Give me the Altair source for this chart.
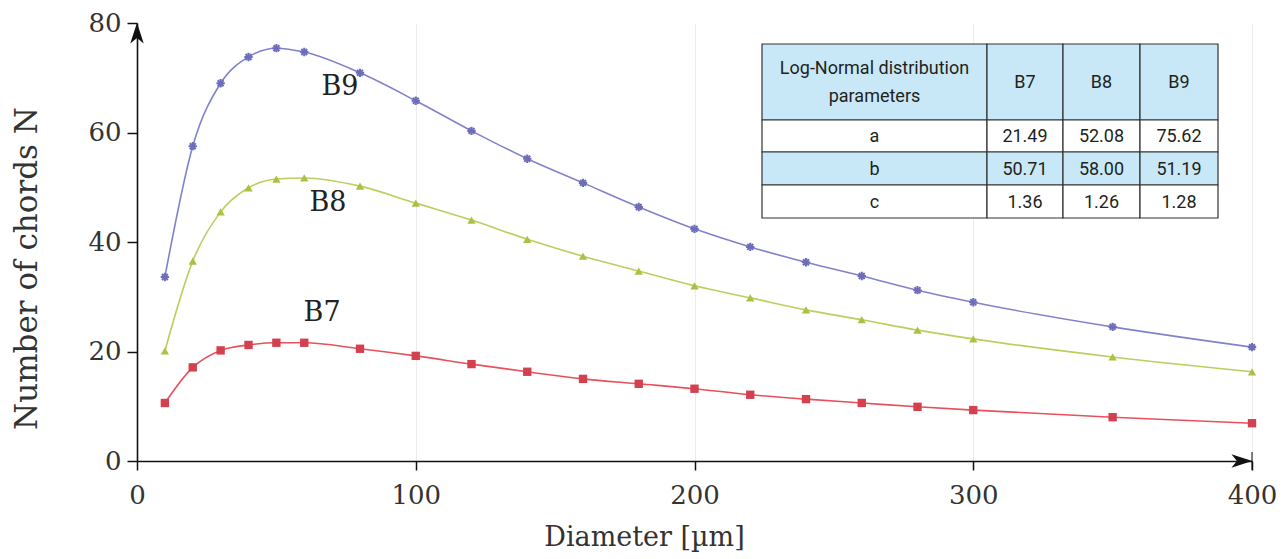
import altair as alt
import pandas as pd

# ---- data ----
diameter = [10, 20, 30, 40, 50, 60, 80, 100, 120, 140, 160, 180, 200, 220, 240, 260, 280, 300, 350, 400]
b7 = [10.6, 17.1, 20.2, 21.2, 21.6, 21.6, 20.5, 19.2, 17.7, 16.3, 15.0, 14.1, 13.2, 12.1, 11.3, 10.6, 9.9, 9.3, 8.0, 6.9]
b8 = [20.1, 36.5, 45.5, 49.9, 51.5, 51.7, 50.2, 47.1, 44.0, 40.5, 37.4, 34.7, 32.0, 29.8, 27.6, 25.8, 23.9, 22.3, 19.0, 16.3]
b9 = [33.6, 57.5, 69.0, 73.8, 75.4, 74.7, 70.9, 65.8, 60.3, 55.2, 50.8, 46.4, 42.4, 39.1, 36.3, 33.8, 31.2, 29.0, 24.5, 20.8]
series = ["B7", "B8", "B9"]

x_ticks = [0, 100, 200, 300, 400]
y_ticks = [0, 20, 40, 60, 80]

# curve labels (annotation anchor in data units)
label_x = [66.4, 68.5, 72.8]
label_y = [27.0, 47.1, 68.3]

# parameter table
table_header = ["Log-Normal distribution\nparameters", "B7", "B8", "B9"]
table_rows = [
    ["a", "21.49", "52.08", "75.62"],
    ["b", "50.71", "58.00", "51.19"],
    ["c", "1.36", "1.26", "1.28"],
]

# ---- styling / layout constants ----
line_colors = {"B7": "#e8505c", "B8": "#b9cf5e", "B9": "#8282cc"}
mark_colors = {"B7": "#d3404f", "B8": "#a9c244", "B9": "#6d6db9"}
SERIF = "DejaVu Serif"
W, H = 1115, 438
col_w = [225, 76, 77, 78]
row_h = [76, 32, 33, 33]
tab_x0, tab_y0 = 625, 21
blue = "#c8e8f7"
LH = 28

xs = alt.Scale(domain=[0, 400], nice=False, zero=False)
ys = alt.Scale(domain=[0, 80], nice=False)

x_axis = alt.Axis(
    values=x_ticks, title="Diameter [µm]", grid=True, gridColor="#ececec",
    domainColor="#111", domainWidth=1.6, tickColor="#111", tickSize=9, tickWidth=1.5,
    labelFont=SERIF, labelFontSize=26, labelColor="#333", labelPadding=12,
    titleFont=SERIF, titleFontSize=27, titleFontWeight="normal", titleColor="#333",
    titleX=507, titleY=76, titleBaseline="middle", labelFlush=False)
y_axis = alt.Axis(
    values=y_ticks, title="Number of chords N", grid=False,
    domainColor="#111", domainWidth=1.6, tickColor="#111", tickSize=10, tickWidth=1.5,
    labelFont=SERIF, labelFontSize=26, labelColor="#333", labelPadding=6,
    titleFont=SERIF, titleFontSize=31, titleFontWeight="normal", titleColor="#333",
    titleX=-110, titleY=245, titleBaseline="middle", titleAngle=-90)

X = alt.X("d:Q", scale=xs, axis=x_axis)
Y = alt.Y("n:Q", scale=ys, axis=y_axis)

curves = pd.DataFrame({
    "d": diameter * 3,
    "n": b7 + b8 + b9,
    "s": sum([[s] * len(diameter) for s in series], []),
})

def sub(s):
    return curves[curves.s == s]

layers = []

for s in series:
    layers.append(alt.Chart(sub(s)).mark_line(interpolate="monotone", strokeWidth=1.6,
                                              color=line_colors[s]).encode(x=X, y=Y))

# markers
layers.append(alt.Chart(sub("B7")).mark_point(shape="square", filled=True, size=70,
                                               opacity=1, color=mark_colors["B7"]).encode(x=X, y=Y))
layers.append(alt.Chart(sub("B8")).mark_point(shape="triangle-up", filled=True, size=70,
                                               opacity=1, color=mark_colors["B8"]).encode(x=X, y=Y))
for ang in [0, 45]:
    layers.append(alt.Chart(sub("B9")).mark_point(shape="M-1,-0.25L1,-0.25L1,0.25L-1,0.25Z M-0.25,-1L0.25,-1L0.25,1L-0.25,1Z",
                                                   filled=True, size=70, angle=ang, opacity=1,
                                                   color=mark_colors["B9"]).encode(x=X, y=Y))

# curve labels
labels = pd.DataFrame({"d": label_x, "n": label_y, "t": series})
layers.append(alt.Chart(labels).mark_text(font=SERIF, fontSize=27, color="#222",
                                          align="center", baseline="middle").encode(
    x=X, y=Y, text="t:N"))

# axis arrowheads
arrow_up = "M0,-1L0.55,0.7L0,0.25L-0.55,0.7Z"
arrow_right = "M1,0L-0.7,0.55L-0.25,0L-0.7,-0.55Z"
layers.append(alt.Chart(pd.DataFrame({"d": [0], "n": [80]})).mark_point(
    shape=arrow_up, filled=True, size=600, color="#111", opacity=1, yOffset=12).encode(x=X, y=Y))
layers.append(alt.Chart(pd.DataFrame({"d": [400], "n": [0]})).mark_point(
    shape=arrow_right, filled=True, size=600, color="#111", opacity=1, xOffset=-12).encode(x=X, y=Y))
layers.append(alt.Chart(pd.DataFrame({"d": [400], "n": [0]})).mark_tick(
    orient="vertical", color="#111", thickness=1.5, size=18).encode(x=X, y=Y))

# table cells
cells = []
all_rows = [table_header] + table_rows
y = tab_y0
for r, row in enumerate(all_rows):
    x = tab_x0
    for c, txt in enumerate(row):
        fill = blue if r in (0, 2) else "#ffffff"
        nl = txt.count("\n")
        cells.append({"x0": x, "x1": x + col_w[c], "y0": y, "y1": y + row_h[r],
                      "xc": x + col_w[c] / 2, "yc": y + row_h[r] / 2 - nl * LH / 2 + 1,
                      "t": txt, "fill": fill})
        x += col_w[c]
    y += row_h[r]
cells_df = pd.DataFrame(cells)

layers.append(alt.Chart(cells_df).mark_rect(stroke="#333333", strokeWidth=1.2).encode(
    x=alt.X("x0:Q", scale=None), x2="x1:Q",
    y=alt.Y("y0:Q", scale=None), y2="y1:Q",
    fill=alt.Fill("fill:N", scale=None)))
layers.append(alt.Chart(cells_df).transform_calculate(
    lines="split(datum.t, '\\n')").mark_text(
    font="Roboto", fontSize=18, color="#231f20", align="center", baseline="middle",
    lineHeight=LH).encode(
    x=alt.X("xc:Q", scale=None), y=alt.Y("yc:Q", scale=None), text="lines:N"))

chart = alt.layer(*layers).properties(
    width=W, height=H,
    autosize=alt.AutoSizeParams(type="none"),
    padding={"left": 129, "top": 15, "right": 26, "bottom": 96},
    background="white",
).configure_view(stroke=None)

chart.save("out.html", embed_options={"renderer": "svg", "actions": False})
